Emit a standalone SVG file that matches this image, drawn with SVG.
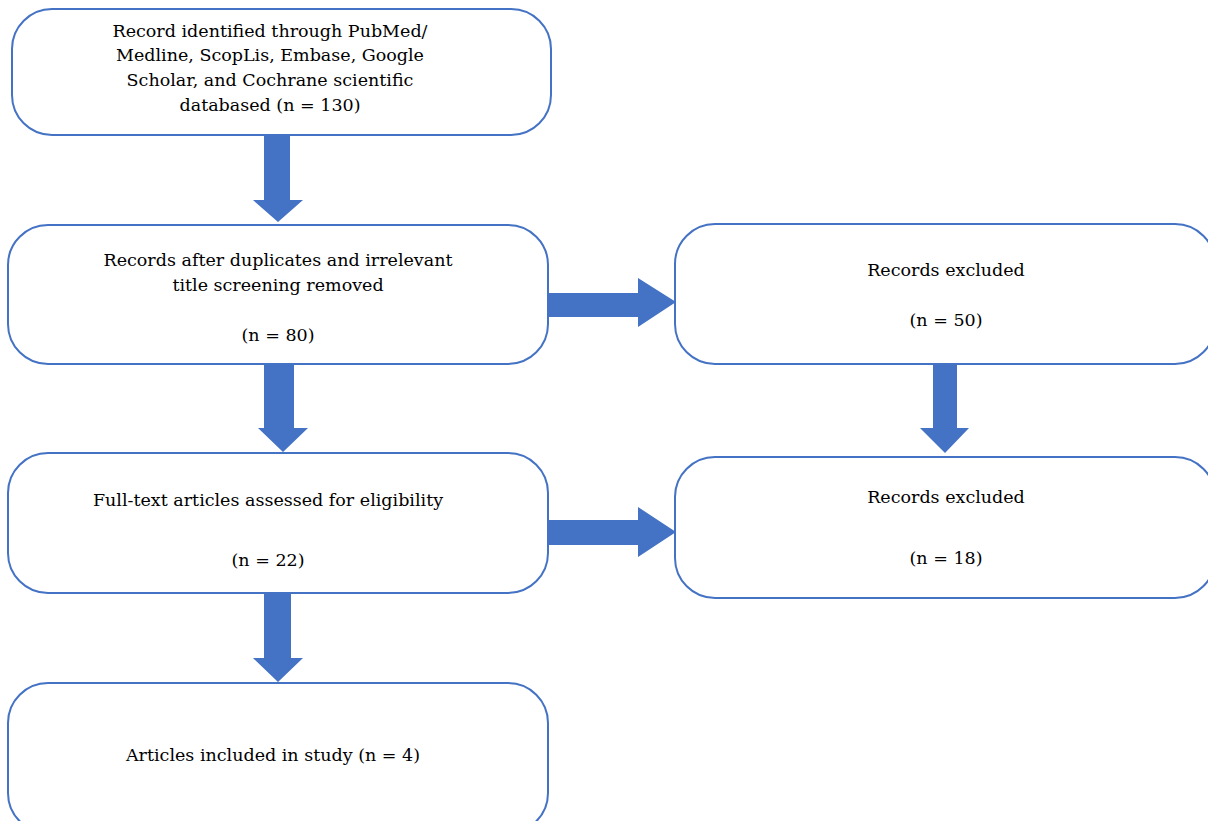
<svg xmlns="http://www.w3.org/2000/svg" width="1208" height="821" viewBox="0 0 1208 821">
<style>
.box{fill:#fff;stroke:#4472C4;stroke-width:2}
.arr{fill:#4472C4}
text{font-family:"DejaVu Serif","Liberation Serif",serif;font-size:17.5px;fill:#000;text-anchor:middle}
</style>
<rect width="1208" height="821" fill="#fff"/>
<g id="connectors">
<polygon class="arr" points="264,135 290,135 290,200 303,200 278,222 253,200 264,200"/>
<polygon class="arr" points="548,293 638,293 638,278 676,302 638,327 638,317 548,317"/>
<polygon class="arr" points="933,364 957,364 957,428 969,428 945,453 920,428 933,428"/>
<polygon class="arr" points="264,364 294,364 294,428 308,428 283,452 258,428 264,428"/>
<polygon class="arr" points="548,520 638,520 638,507 676,532 638,557 638,545 548,545"/>
<polygon class="arr" points="264,593 291,593 291,658 303,658 278,682 253,658 264,658"/>
</g>
<g id="n1">
<rect class="box" x="12" y="9" width="539" height="126" rx="40"/>
<text x="270" y="37">Record identified through PubMed/</text>
<text x="270" y="61">Medline, ScopLis, Embase, Google</text>
<text x="270" y="86">Scholar, and Cochrane scientific</text>
<text x="270" y="111">databased (n = 130)</text>
</g>
<g id="n2">
<rect class="box" x="8" y="225" width="540" height="139" rx="40"/>
<text x="278" y="266">Records after duplicates and irrelevant</text>
<text x="278" y="291">title screening removed</text>
<text x="278" y="341">(n = 80)</text>
</g>
<g id="n3">
<rect class="box" x="675" y="224" width="540" height="140" rx="40"/>
<text x="946" y="276">Records excluded</text>
<text x="946" y="326">(n = 50)</text>
</g>
<g id="n4">
<rect class="box" x="8" y="453" width="540" height="140" rx="40"/>
<text x="268" y="506">Full-text articles assessed for eligibility</text>
<text x="268" y="566">(n = 22)</text>
</g>
<g id="n5">
<rect class="box" x="675" y="457" width="540" height="141" rx="40"/>
<text x="946" y="503">Records excluded</text>
<text x="946" y="564">(n = 18)</text>
</g>
<g id="n6">
<rect class="box" x="8" y="683" width="540" height="150" rx="40"/>
<text x="273" y="761">Articles included in study (n = 4)</text>
</g>
</svg>
